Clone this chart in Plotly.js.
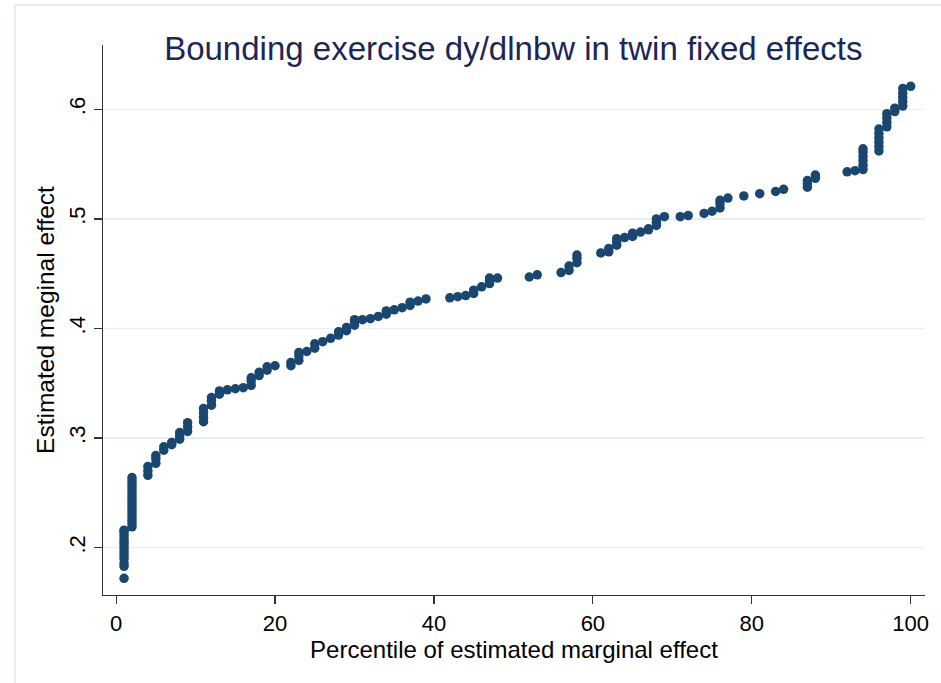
<!DOCTYPE html>
<html>
<head>
<meta charset="utf-8">
<script src="https://cdn.plot.ly/plotly-3.0.1.min.js"></script>
<style>
html,body{margin:0;padding:0;background:#fff;}
#chart{width:941px;height:683px;}
</style>
</head>
<body>
<div id="chart"></div>
<script>
// Percentile of estimated marginal effect
const pctl = [
  1,1,1,1,1,1,1,1,1,1,1,1,1,
  2,2,2,2,2,2,2,2,2,2,2,2,2,2,2,2,
  4,4,4, 5,5,5, 6,6, 7,7, 8,8,8, 9,9,9,
  11,11,11,11, 12,12,12, 13,13, 14, 15, 16, 17,17,17, 18,18, 19,19, 20,
  22,22, 23,23,23, 24, 25,25, 26, 27, 28,28, 29,29, 30,30,30, 31, 32, 33,
  34,34, 35, 36, 37,37, 38, 39,
  42, 43, 44, 45,45, 46, 47,47,47, 48,
  52, 53, 56, 57,57, 58,58,58,
  61, 62,62, 63,63,63, 64, 65,65, 66, 67,67, 68,68,68, 69,
  71, 72, 74, 75, 76,76,76, 77, 79, 81, 83, 84,
  87,87,87, 88,88, 92, 93, 94,94,94,94,94,94,
  96,96,96,96,96,96, 97,97,97,97, 98,98, 99,99,99,99,99, 100
];
// Estimated marginal effect
const meff = [
  0.172,0.183,0.186,0.190,0.193,0.196,0.199,0.202,0.205,0.208,0.211,0.214,0.216,
  0.219,0.222,0.225,0.228,0.231,0.234,0.237,0.240,0.243,0.246,0.249,0.252,0.255,0.258,0.261,0.264,
  0.266,0.270,0.274, 0.277,0.281,0.284, 0.289,0.292, 0.294,0.296, 0.299,0.302,0.305, 0.306,0.310,0.314,
  0.315,0.319,0.323,0.327, 0.330,0.334,0.337, 0.340,0.343, 0.344, 0.345, 0.346, 0.348,0.352,0.355, 0.357,0.360, 0.362,0.365, 0.366,
  0.366,0.369, 0.371,0.375,0.378, 0.379, 0.382,0.386, 0.388, 0.391, 0.394,0.397, 0.398,0.401, 0.403,0.406,0.408, 0.408, 0.409, 0.411,
  0.413,0.416, 0.417, 0.419, 0.421,0.424, 0.425, 0.427,
  0.428, 0.429, 0.430, 0.432,0.435, 0.438, 0.441,0.444,0.446, 0.446,
  0.447, 0.449, 0.451, 0.453,0.457, 0.460,0.464,0.467,
  0.469, 0.470,0.473, 0.476,0.479,0.482, 0.483, 0.484,0.487, 0.488, 0.490,0.491, 0.494,0.497,0.500, 0.502,
  0.502, 0.503, 0.505, 0.507, 0.510,0.514,0.517, 0.519, 0.521, 0.523, 0.525, 0.527,
  0.529,0.532,0.535, 0.537,0.540, 0.543, 0.544, 0.545,0.549,0.553,0.557,0.561,0.564,
  0.562,0.566,0.570,0.574,0.578,0.582, 0.584,0.588,0.592,0.596, 0.598,0.601, 0.603,0.607,0.611,0.615,0.619, 0.621
];
const xTicks = [0, 20, 40, 60, 80, 100];
const xTickText = ["0", "20", "40", "60", "80", "100"];
const yTicks = [0.2, 0.3, 0.4, 0.5, 0.6];
const yTickText = [".2", ".3", ".4", ".5", ".6"];

const FONT = "Liberation Sans, Arial, sans-serif";

const trace = {
  type: "scatter",
  mode: "markers",
  x: pctl,
  y: meff,
  marker: {color: "#1a476f", size: 9.5, line: {width: 0}},
  hoverinfo: "x+y",
  showlegend: false
};

const layout = {
  width: 941,
  height: 683,
  margin: {l: 103, r: 16, t: 45, b: 88},
  paper_bgcolor: "#ffffff",
  plot_bgcolor: "#ffffff",
  font: {family: FONT, color: "#000000"},
  title: {
    text: "Bounding exercise dy/dlnbw in twin fixed effects",
    font: {family: FONT, size: 33, color: "#1c2757"},
    x: 0.5455, xref: "container", xanchor: "center",
    y: 1 - 48/683, yref: "container", yanchor: "middle"
  },
  xaxis: {
    range: [-1.65, 101.8],
    tickvals: xTicks,
    ticktext: xTickText,
    ticks: "outside",
    ticklen: 8,
    tickwidth: 1.2,
    tickcolor: "#333",
    tickfont: {size: 22, family: FONT},
    showline: true,
    linecolor: "#333",
    linewidth: 1.2,
    showgrid: false,
    zeroline: false,
    title: {text: "Percentile of estimated marginal effect", font: {size: 24, family: FONT}, standoff: 2}
  },
  yaxis: {
    range: [0.1568, 0.6587],
    tickvals: yTicks,
    ticktext: yTickText,
    ticks: "outside",
    ticklen: 8,
    tickwidth: 1.2,
    tickcolor: "#333",
    tickangle: -90,
    tickfont: {size: 22, family: FONT},
    showline: true,
    linecolor: "#333",
    linewidth: 1.2,
    showgrid: true,
    gridcolor: "#e6eff1",
    gridwidth: 1.5,
    zeroline: false,
    title: {text: "Estimated meginal effect", font: {size: 24.5, family: FONT}, standoff: 3}
  },
  shapes: [
    {type: "rect", xref: "paper", yref: "paper",
     x0: (15-103)/822, x1: (960-103)/822, y0: (595-700)/550, y1: (595-5)/550,
     line: {color: "#dfe6ea", width: 1.5}, fillcolor: "rgba(0,0,0,0)", layer: "below"}
  ]
};

Plotly.newPlot("chart", [trace], layout, {displayModeBar: false, staticPlot: true});
</script>
</body>
</html>
